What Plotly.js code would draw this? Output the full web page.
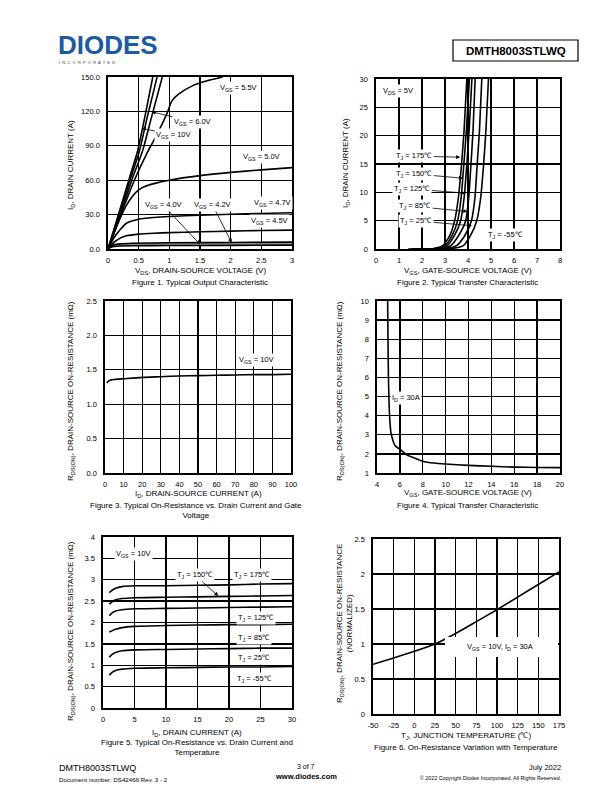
<!DOCTYPE html>
<html><head><meta charset="utf-8">
<script src="https://cdn.plot.ly/plotly-3.0.1.min.js"></script>
<style>html,body{margin:0;padding:0;background:#fff}#chart{width:612px;height:792px}</style>
</head><body><div id="chart"></div>
<script>
// ---------- Figure 1: output characteristic ----------
const f1_vgs10_v = [0, 0.17, 0.35, 0.48, 0.60, 0.73];
const f1_vgs10_i = [0, 30, 62, 85, 115, 150];
const f1_vgs8_v  = [0, 0.18, 0.37, 0.51, 0.64, 0.80];
const f1_vgs8_i  = [0, 30, 62, 85, 115, 150];
const f1_vgs6_v  = [0, 0.20, 0.40, 0.56, 0.71, 0.885];
const f1_vgs6_i  = [0, 30, 62, 85, 115, 150];
const f1_vgs55_v = [0, 0.21, 0.43, 0.63, 0.80, 0.96, 1.04, 1.15, 1.39, 1.60, 1.87];
const f1_vgs55_i = [0, 30, 60, 83, 100, 118, 129, 135, 142.7, 146.5, 150];
const f1_vgs5_v  = [0, 0.1, 0.2, 0.3, 0.4, 0.5, 0.6, 0.75, 1.0, 1.5, 2.0, 2.5, 3.0];
const f1_vgs5_i  = [0, 14, 27, 38, 46, 51.5, 54.5, 57, 60, 64, 66.8, 69, 71];
const f1_vgs47_v = [0, 0.1, 0.2, 0.3, 0.5, 0.75, 1.0, 1.5, 2.0, 2.5, 3.0];
const f1_vgs47_i = [0, 10, 17, 22.5, 26, 27.5, 28.4, 29.5, 30.3, 31, 31.6];
const f1_vgs45_v = [0, 0.1, 0.2, 0.3, 0.5, 0.75, 1.0, 1.5, 2.0, 2.5, 3.0];
const f1_vgs45_i = [0, 6, 9.5, 11.5, 13, 13.8, 14.3, 15, 15.6, 16.1, 16.5];
const f1_vgs42_v = [0, 0.05, 0.1, 0.2, 0.4, 1.0, 2.0, 3.0];
const f1_vgs42_i = [0, 2.5, 3.8, 4.5, 5.0, 5.4, 5.7, 6.0];
const f1_vgs40_v = [0, 0.05, 0.1, 0.2, 0.4, 1.0, 2.0, 3.0];
const f1_vgs40_i = [0, 1.5, 2.2, 2.6, 2.8, 3.0, 3.2, 3.4];

// ---------- Figure 2: transfer characteristic ----------
const f2_id = [0, 0.1, 0.6, 2.3, 5, 9, 15, 21, 30];
const f2_t175_v = [1.4, 2.5, 2.9, 3.2, 3.42, 3.58, 3.72, 3.83, 3.95];
const f2_t150_v = [1.5, 2.6, 3.0, 3.3, 3.55, 3.70, 3.82, 3.93, 4.06];
const f2_t125_v = [1.6, 2.7, 3.1, 3.4, 3.68, 3.83, 3.95, 4.05, 4.17];
const f2_t85_v  = [1.7, 2.8, 3.25, 3.58, 3.90, 4.03, 4.13, 4.22, 4.31];
const f2_t25_v  = [1.9, 3.0, 3.5, 3.85, 4.15, 4.30, 4.40, 4.50, 4.60];
const f2_tm55_v = [2.2, 3.3, 3.8, 4.1, 4.38, 4.55, 4.68, 4.78, 4.89];

// ---------- Figure 3: Rds(on) vs Id ----------
const f3_id  = [1, 2, 3, 5, 10, 20, 30, 40, 50, 60, 70, 80, 90, 100];
const f3_rds = [1.31, 1.34, 1.35, 1.36, 1.37, 1.39, 1.40, 1.41, 1.415, 1.42, 1.425, 1.43, 1.43, 1.435];

// ---------- Figure 4: Rds(on) vs Vgs ----------
const f4_vgs = [4.93, 4.96, 5.0, 5.04, 5.1, 5.22, 5.3, 5.45, 5.6, 5.8, 6.0, 6.6, 7.0, 8.0, 9.0, 10, 12, 14, 16, 18, 20];
const f4_rds = [10, 8, 6, 5, 4, 3.1, 2.9, 2.6, 2.42, 2.32, 2.25, 1.95, 1.85, 1.62, 1.52, 1.47, 1.40, 1.35, 1.31, 1.29, 1.28];

// ---------- Figure 5: Rds(on) vs Id and temperature ----------
const f5_id    = [1, 1.5, 2, 3, 5, 10, 15, 20, 25, 30];
const f5_t175  = [2.70, 2.76, 2.80, 2.84, 2.86, 2.86, 2.87, 2.88, 2.90, 2.91];
const f5_t150  = [2.43, 2.49, 2.53, 2.56, 2.58, 2.59, 2.60, 2.61, 2.62, 2.63];
const f5_t125  = [2.16, 2.23, 2.27, 2.30, 2.32, 2.33, 2.34, 2.35, 2.36, 2.37];
const f5_t85   = [1.78, 1.81, 1.84, 1.88, 1.91, 1.93, 1.94, 1.95, 1.95, 1.96];
const f5_t25   = [1.19, 1.26, 1.30, 1.34, 1.36, 1.37, 1.38, 1.39, 1.40, 1.40];
const f5_tm55  = [0.77, 0.84, 0.88, 0.91, 0.93, 0.94, 0.95, 0.96, 0.96, 0.97];

// ---------- Figure 6: normalized Rds(on) vs Tj ----------
const f6_tj  = [-50, -25, 0, 25, 50, 75, 100, 125, 150, 175];
const f6_rds = [0.71, 0.80, 0.895, 1.0, 1.15, 1.32, 1.49, 1.67, 1.85, 2.03];

// ---------- tick definitions ----------
const f1_xticks = [0, 0.5, 1, 1.5, 2, 2.5, 3];
const f1_yticks = [0, 30, 60, 90, 120, 150];
const f2_xticks = [0, 1, 2, 3, 4, 5, 6, 7, 8];
const f2_yticks = [0, 5, 10, 15, 20, 25, 30];
const f3_xticks = [0, 10, 20, 30, 40, 50, 60, 70, 80, 90, 100];
const f3_yticks = [0, 0.5, 1, 1.5, 2, 2.5];
const f4_xticks = [4, 6, 8, 10, 12, 14, 16, 18, 20];
const f4_yticks = [1, 2, 3, 4, 5, 6, 7, 8, 9, 10];
const f5_xticks = [0, 5, 10, 15, 20, 25, 30];
const f5_yticks = [0, 0.5, 1, 1.5, 2, 2.5, 3, 3.5, 4];
const f6_xticks = [-50, -25, 0, 25, 50, 75, 100, 125, 150, 175];
const f6_xlabels = ['-50', '-25', '0', '25', '50', '75', '100', '125', '150', '175'];
const f6_yticks = [0, 0.5, 1, 1.5, 2, 2.5];

// ================== layout helpers ==================
const W = 612, H = 792;
const FONT = 'Liberation Sans, Arial, Helvetica, sans-serif';
const px = x => x / W;
const py = y => 1 - y / H;

const boxes = [
  {x0:108, x1:292, y0:77,  y1:249},
  {x0:376, x1:560, y0:79,  y1:249},
  {x0:105, x1:291, y0:301, y1:473},
  {x0:377, x1:560, y0:301, y1:473},
  {x0:103, x1:292, y0:537, y1:708},
  {x0:373, x1:559, y0:539, y1:714}
];
const xticksAll = [f1_xticks, f2_xticks, f3_xticks, f4_xticks, f5_xticks, f6_xticks];
const yticksAll = [f1_yticks, f2_yticks, f3_yticks, f4_yticks, f5_yticks, f6_yticks];
const yfmt = ['.1f', '', '.1f', '', '', ''];

const layout = {
  width: W, height: H,
  margin: {l:0, r:0, t:0, b:0},
  paper_bgcolor: '#fff', plot_bgcolor: '#fff',
  showlegend: false,
  font: {family: FONT, color: '#000', size: 7.5},
  annotations: [], shapes: []
};

function baseAxis() {
  return {
    showline: true, mirror: true, linecolor: '#000', linewidth: 1.6,
    showgrid: true, gridcolor: '#000', gridwidth: 1.3,
    zeroline: false, ticks: 'outside', tickcolor: 'rgba(0,0,0,0)',
    tickfont: {family: FONT, size: 7.5, color: '#000'},
    tickmode: 'array', fixedrange: true
  };
}
boxes.forEach((b, k) => {
  const s = k === 0 ? '' : String(k + 1);
  const xa = baseAxis(), ya = baseAxis();
  const xt = xticksAll[k], yt = yticksAll[k];
  xa.domain = [px(b.x0), px(b.x1)];
  xa.range = [xt[0], xt[xt.length - 1]];
  xa.tickvals = xt; xa.ticklen = 3;
  xa.anchor = 'y' + s;
  ya.domain = [py(b.y1), py(b.y0)];
  ya.range = [yt[0], yt[yt.length - 1]];
  ya.tickvals = yt; ya.ticklen = 5;
  if (yfmt[k]) ya.tickformat = yfmt[k];
  ya.anchor = 'x' + s;
  layout['xaxis' + s] = xa;
  layout['yaxis' + s] = ya;
});
layout.xaxis6.ticktext = f6_xlabels;

const traces = [];
function line(k, x, y, extra) {
  const s = k === 1 ? '' : String(k);
  traces.push(Object.assign({
    type: 'scatter', mode: 'lines', x: x, y: y,
    xaxis: 'x' + s, yaxis: 'y' + s,
    line: {color: '#000', width: 1.6, shape: 'spline', smoothing: 0.6},
    hoverinfo: 'skip'
  }, extra || {}));
}

// Figure 1
line(1, f1_vgs40_v, f1_vgs40_i, {name: 'VGS=4.0V'});
line(1, f1_vgs42_v, f1_vgs42_i, {name: 'VGS=4.2V', fill: 'tonexty', fillcolor: '#9a9a9a'});
line(1, f1_vgs45_v, f1_vgs45_i, {name: 'VGS=4.5V'});
line(1, f1_vgs47_v, f1_vgs47_i, {name: 'VGS=4.7V'});
line(1, f1_vgs5_v,  f1_vgs5_i,  {name: 'VGS=5.0V'});
line(1, f1_vgs55_v, f1_vgs55_i, {name: 'VGS=5.5V'});
line(1, f1_vgs6_v,  f1_vgs6_i,  {name: 'VGS=6.0V'});
line(1, f1_vgs8_v,  f1_vgs8_i,  {name: 'unlabeled'});
line(1, f1_vgs10_v, f1_vgs10_i, {name: 'VGS=10V'});
// Figure 2
[f2_t175_v, f2_t150_v, f2_t125_v, f2_t85_v, f2_t25_v, f2_tm55_v].forEach(v => line(2, v, f2_id));
// Figure 3
line(3, f3_id, f3_rds);
// Figure 4
line(4, f4_vgs, f4_rds);
// Figure 5
[f5_t175, f5_t150, f5_t125, f5_t85, f5_t25, f5_tm55].forEach(r => line(5, f5_id, r));
// Figure 6
line(6, f6_tj, f6_rds);

// ================== annotations ==================
const A = layout.annotations;
function lab(k, x, y, text, opt) {
  const s = k === 1 ? '' : String(k);
  A.push(Object.assign({xref: 'x' + s, yref: 'y' + s, x: x, y: y, text: text, showarrow: false,
    font: {family: FONT, size: 7.5, color: '#000'}, bgcolor: '#fff', borderpad: 1}, opt || {}));
}
function arr(k, tx, ty, hx, hy, text) {
  const s = k === 1 ? '' : String(k);
  A.push({xref: 'x' + s, yref: 'y' + s, x: hx, y: hy, ax: tx, ay: ty, axref: 'x' + s, ayref: 'y' + s,
    text: text, showarrow: true, arrowhead: 2, arrowsize: 1, arrowwidth: 0.8, arrowcolor: '#000',
    standoff: 0, font: {family: FONT, size: 7.5, color: '#000'}, bgcolor: '#fff', borderpad: 1});
}
function ptxt(x, y, text, opt) {
  A.push(Object.assign({xref: 'paper', yref: 'paper', x: px(x), y: py(y), text: text, showarrow: false,
    xanchor: 'center', yanchor: 'middle', font: {family: FONT, size: 8, color: '#000'}}, opt || {}));
}

// Fig 1 labels
lab(1, 2.12, 140.1, 'V<sub>GS</sub> = 5.5V');
arr(1, 1.378, 111.0, 0.712, 119.7, 'V<sub>GS</sub> = 6.0V');
arr(1, 1.076, 99.4, 0.549, 105.3, 'V<sub>GS</sub> = 10V');
lab(1, 2.495, 80.0, 'V<sub>GS</sub> = 5.0V');
arr(1, 0.897, 38.4, 1.5, 4.1, 'V<sub>GS</sub> = 4.0V');
arr(1, 1.704, 38.4, 2.017, 5.5, 'V<sub>GS</sub> = 4.2V');
lab(1, 2.674, 39.9, 'V<sub>GS</sub> = 4.7V');
lab(1, 2.625, 24.7, 'V<sub>GS</sub> = 4.5V');

// Fig 2 labels
lab(2, 0.968, 27.9, 'V<sub>DS</sub> = 5V');
arr(2, 1.66, 16.4, 3.66, 16.2, 'T<sub>J</sub> = 175℃');
arr(2, 1.66, 13.25, 3.78, 12.5, 'T<sub>J</sub> = 150℃');
arr(2, 1.575, 10.6, 3.875, 9.86, 'T<sub>J</sub> = 125℃');
arr(2, 1.705, 7.5, 3.975, 6.62, 'T<sub>J</sub> = 85℃');
arr(2, 1.75, 4.98, 4.17, 4.1, 'T<sub>J</sub> = 25℃');
lab(2, 5.61, 2.52, 'T<sub>J</sub> = -55℃');

// Fig 3 / 4 labels
lab(3, 81.6, 1.64, 'V<sub>GS</sub> = 10V');
lab(4, 6.54, 4.91, 'I<sub>D</sub> = 30A');

// Fig 5 labels
lab(5, 4.82, 3.60, 'V<sub>GS</sub> = 10V');
arr(5, 14.6, 3.11, 18.3, 2.62, 'T<sub>J</sub> = 150℃');
lab(5, 23.65, 3.11, 'T<sub>J</sub> = 175℃');
lab(5, 24.3, 2.11, 'T<sub>J</sub> = 125℃');
lab(5, 23.9, 1.63, 'T<sub>J</sub> = 85℃');
lab(5, 23.9, 1.16, 'T<sub>J</sub> = 25℃');
lab(5, 24.1, 0.67, 'T<sub>J</sub> = -55℃');

// Fig 6 label with white box
layout.shapes.push({type: 'rect', xref: 'paper', yref: 'paper', x0: px(445), x1: px(558), y0: py(657), y1: py(637),
  fillcolor: '#fff', line: {width: 0}, layer: 'above'});
lab(6, 103.6, 0.957, 'V<sub>GS</sub> = 10V, I<sub>D</sub> = 30A', {bgcolor: 'rgba(0,0,0,0)'});

// Axis titles
ptxt(200, 271, 'V<sub>DS</sub>, DRAIN-SOURCE VOLTAGE (V)');
ptxt(468, 271, 'V<sub>GS</sub>, GATE-SOURCE VOLTAGE (V)');
ptxt(198, 494, 'I<sub>D</sub>, DRAIN-SOURCE CURRENT (A)');
ptxt(468, 493, 'V<sub>GS</sub>, GATE-SOURCE VOLTAGE (V)');
ptxt(197, 733, 'I<sub>D</sub>, DRAIN CURRENT (A)');
ptxt(466, 736, 'T<sub>J</sub>, JUNCTION TEMPERATURE (℃)');
const RDS = 'R<sub>DS(ON)</sub>, DRAIN-SOURCE ON-RESISTANCE (mΩ)';
ptxt(71, 165, 'I<sub>D</sub>, DRAIN CURRENT (A)', {textangle: -90});
ptxt(346, 163, 'I<sub>D</sub>, DRAIN CURRENT (A)', {textangle: -90});
ptxt(71, 391, RDS, {textangle: -90});
ptxt(340, 391, RDS, {textangle: -90});
ptxt(71, 631, RDS, {textangle: -90});
ptxt(344, 624, 'R<sub>DS(ON)</sub>, DRAIN-SOURCE ON-RESISTANCE<br>(NORMALIZED)', {textangle: -90});

// Captions
ptxt(200, 283, 'Figure 1. Typical Output Characteristic');
ptxt(468, 283, 'Figure 2. Typical Transfer Characteristic');
ptxt(196, 510, 'Figure 3. Typical On-Resistance vs. Drain Current and Gate<br>Voltage');
ptxt(468, 505, 'Figure 4. Typical Transfer Characteristic');
ptxt(197, 747, 'Figure 5. Typical On-Resistance vs. Drain Current and<br>Temperature');
ptxt(466, 747, 'Figure 6. On-Resistance Variation with Temperature');

// Header
ptxt(56, 45, '<b>DIODES</b>', {xanchor: 'left', font: {family: FONT, size: 26, color: '#1c5aa6'}});
ptxt(57, 62.5, 'I  N  C  O  R  P  O  R  A  T  E  D', {xanchor: 'left', font: {family: FONT, size: 4, color: '#333'}});
layout.shapes.push({type: 'rect', xref: 'paper', yref: 'paper', x0: px(453), x1: px(578), y0: py(61), y1: py(40),
  line: {color: '#000', width: 1.2}, fillcolor: 'rgba(0,0,0,0)'});
ptxt(515.5, 50.5, '<b>DMTH8003STLWQ</b>', {font: {family: FONT, size: 11.5, color: '#000'}});

// Footer
ptxt(57, 768, 'DMTH8003STLWQ', {xanchor: 'left', font: {family: FONT, size: 9, color: '#000'}});
ptxt(57, 779, 'Document number: DS42466 Rev. 3 - 2', {xanchor: 'left', font: {family: FONT, size: 6.2, color: '#000'}});
ptxt(306, 766, '3 of 7', {font: {family: FONT, size: 7, color: '#000'}});
ptxt(306, 776, '<b>www.diodes.com</b>', {font: {family: FONT, size: 7.5, color: '#000'}});
ptxt(563, 767, 'July 2022', {xanchor: 'right', font: {family: FONT, size: 7.5, color: '#000'}});
ptxt(563, 778, '© 2022 Copyright Diodes Incorporated. All Rights Reserved.', {xanchor: 'right', font: {family: FONT, size: 5.3, color: '#000'}});

Plotly.newPlot('chart', traces, layout, {staticPlot: true, displayModeBar: false});
</script></body></html>
